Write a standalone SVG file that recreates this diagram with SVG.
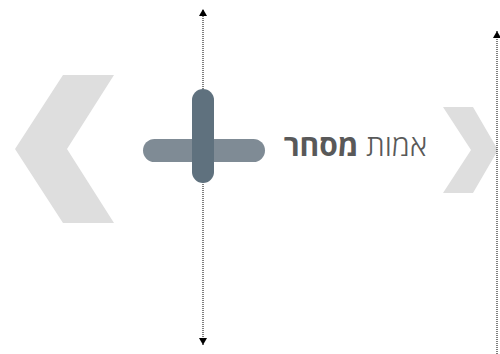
<svg xmlns="http://www.w3.org/2000/svg" width="500" height="354" viewBox="0 0 500 354">
  <defs>
    <marker id="ah" viewBox="0 0 7 8" refX="7" refY="4" markerWidth="7" markerHeight="8" markerUnits="userSpaceOnUse" orient="auto-start-reverse">
      <path d="M0,0 L7,4 L0,8 Z" fill="#000"/>
    </marker>
    <style>
      .chev { fill: #dedede; }
      .conn { stroke: #000; stroke-width: 1; stroke-dasharray: 1 1; fill: none; }
      .lbl { font-family: "Open Sans", "DejaVu Sans", sans-serif; font-size: 30px; fill: #595959; }
    </style>
  </defs>
  <g id="chevron-left">
    <polygon class="chev" points="63,75 114,75 67,149 114,223 63,223 15,149"/>
  </g>
  <g id="chevron-right">
    <polygon class="chev" points="443,107 473,107 498,150 473,193 443,193 471,150"/>
  </g>
  <g id="connectors">
    <line class="conn" x1="203" y1="345" x2="203" y2="9" marker-end="url(#ah)" marker-start="url(#ah)"/>
    <line class="conn" x1="497" y1="354" x2="497" y2="31" marker-end="url(#ah)"/>
  </g>
  <g id="cross">
    <rect x="143" y="139" width="122" height="23" rx="11.5" fill="#7f8b95"/>
    <rect x="192" y="89" width="22" height="94" rx="11" fill="#5f717e"/>
  </g>
  <g id="label">
    <text class="lbl" x="427" y="156" text-anchor="end"><tspan font-weight="300">אמות </tspan><tspan font-weight="700">מסחר</tspan></text>
  </g>
</svg>
